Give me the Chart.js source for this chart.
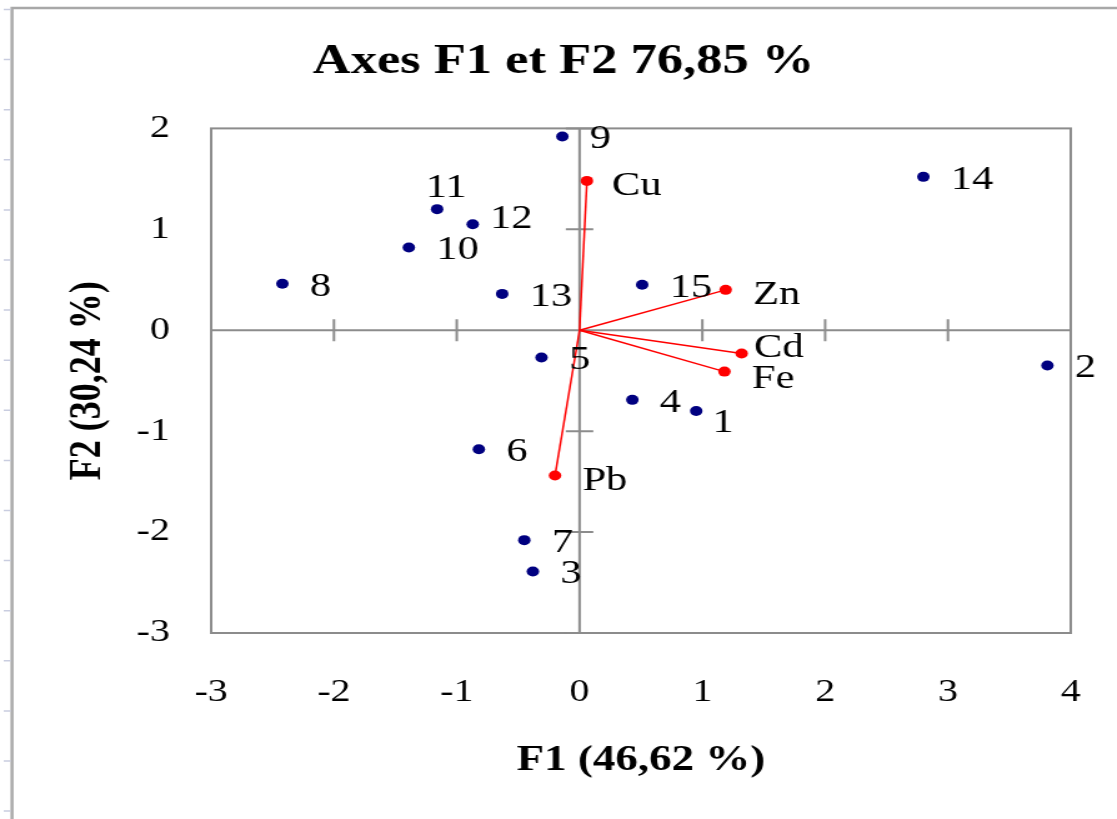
<!DOCTYPE html>
<html lang="fr">
<head>
    <meta charset="UTF-8">
    <title>Axes F1 et F2</title>
    <script src="https://cdn.jsdelivr.net/npm/chart.js"></script>
</head>
<body>
<div class="stretch">
    <canvas id="acpChart" width="894" height="819"></canvas>
</div>

<script>
    // Observations (sites 1..15)
    const obsLabels = ['1', '2', '3', '4', '5', '6', '7', '8', '9', '10', '11', '12', '13', '14', '15'];
    const obsF1 = [0.95, 3.81, -0.38, 0.43, -0.31, -0.82, -0.45, -2.42, -0.14, -1.39, -1.16, -0.87, -0.63, 2.80, 0.51];
    const obsF2 = [-0.80, -0.35, -2.39, -0.69, -0.27, -1.18, -2.08, 0.46, 1.92, 0.82, 1.20, 1.05, 0.36, 1.52, 0.45];

    // Variables (metals)
    const varLabels = ['Cu', 'Zn', 'Cd', 'Fe', 'Pb'];
    const varF1 = [0.06, 1.19, 1.32, 1.18, -0.20];
    const varF2 = [1.48, 0.40, -0.23, -0.41, -1.44];

    // Axis ticks
    const xTicks = [-3, -2, -1, 0, 1, 2, 3, 4];
    const yTicks = [-3, -2, -1, 0, 1, 2];

    // Label placement next to each point (px)
    const labelShift = {
        '11': [-9, -21], '12': [14, -5], '1': [13, 12],
        'Cu': [20, 5], 'Zn': [22, 5], 'Cd': [10, -5], 'Fe': [22, 7], 'Pb': [22, 6]
    };
    const defaultShift = [22, 3];

    const NAVY = '#000080';
    const RED = '#ff0000';
    const AXIS_GREY = '#8c8c8c';

    Chart.defaults.font.family = '"Liberation Serif", "Times New Roman", serif';
    Chart.defaults.color = '#000';

    const obsData = obsF1.map((x, i) => ({ x: x, y: obsF2[i] }));

    // one small dataset per variable: a segment from the origin
    const varDatasets = varLabels.map((name, i) => ({
        label: name,
        data: [{ x: 0, y: 0 }, { x: varF1[i], y: varF2[i] }],
        showLine: true,
        borderColor: RED,
        borderWidth: 1.5,
        backgroundColor: RED,
        pointRadius: [0, 5],
        pointBorderWidth: 0
    }));

    // page frame, plot box and the axes through the origin
    const framePlugin = {
        id: 'framePlugin',
        beforeDraw(chart) {
            const ctx = chart.ctx;
            ctx.save();
            ctx.fillStyle = '#fff';
            ctx.fillRect(0, 0, chart.width, chart.height);
            ctx.strokeStyle = '#a8a8a8';
            ctx.lineWidth = 2.4;
            ctx.beginPath();
            ctx.moveTo(9.6, chart.height);
            ctx.lineTo(9.6, 8);
            ctx.lineTo(chart.width, 8);
            ctx.stroke();
            ctx.strokeStyle = '#c9cde0';
            ctx.lineWidth = 1.5;
            ctx.beginPath();
            for (let y = 9.5; y < chart.height; y += 50.1) {
                ctx.moveTo(3, y);
                ctx.lineTo(8.5, y);
            }
            ctx.stroke();
            ctx.restore();
        },
        beforeDatasetsDraw(chart) {
            const ctx = chart.ctx;
            const area = chart.chartArea;
            const xs = chart.scales.x;
            const ys = chart.scales.y;
            const x0 = xs.getPixelForValue(0);
            const y0 = ys.getPixelForValue(0);
            ctx.save();
            ctx.strokeStyle = AXIS_GREY;
            ctx.lineWidth = 2;
            ctx.strokeRect(area.left, area.top, area.right - area.left, area.bottom - area.top);
            ctx.beginPath();
            ctx.moveTo(area.left, y0);
            ctx.lineTo(area.right, y0);
            ctx.moveTo(x0, area.top);
            ctx.lineTo(x0, area.bottom);
            xs.ticks.forEach(t => {
                const px = xs.getPixelForValue(t.value);
                ctx.moveTo(px, y0 - 11);
                ctx.lineTo(px, y0 + 11);
            });
            ys.ticks.forEach(t => {
                const py = ys.getPixelForValue(t.value);
                ctx.moveTo(x0 - 11, py);
                ctx.lineTo(x0 + 11, py);
            });
            ctx.stroke();
            ctx.restore();
        },
        afterDatasetsDraw(chart) {
            const ctx = chart.ctx;
            ctx.save();
            ctx.font = '34px "Liberation Serif", "Times New Roman", serif';
            ctx.fillStyle = '#000';
            ctx.textAlign = 'left';
            ctx.textBaseline = 'middle';
            chart.data.datasets.forEach((ds, di) => {
                const meta = chart.getDatasetMeta(di);
                if (di === 0) {
                    meta.data.forEach((pt, i) => {
                        const s = labelShift[obsLabels[i]] || defaultShift;
                        ctx.fillText(obsLabels[i], pt.x + s[0], pt.y + s[1]);
                    });
                } else {
                    const pt = meta.data[1];
                    const s = labelShift[ds.label] || defaultShift;
                    ctx.fillText(ds.label, pt.x + s[0], pt.y + s[1]);
                }
            });
            ctx.restore();
        }
    };

    const ctx = document.getElementById('acpChart').getContext('2d');
    new Chart(ctx, {
        type: 'scatter',
        data: {
            datasets: [
                {
                    label: 'Observations',
                    data: obsData,
                    backgroundColor: NAVY,
                    borderColor: NAVY,
                    pointRadius: 5,
                    pointBorderWidth: 0
                },
                ...varDatasets
            ]
        },
        options: {
            responsive: false,
            animation: false,
            layout: { padding: { left: 45, right: 37, top: 0, bottom: 0 } },
            plugins: {
                legend: { display: false },
                tooltip: { enabled: false },
                title: {
                    display: true,
                    text: 'Axes F1 et F2 76,85 %',
                    color: '#000',
                    font: { size: 42, weight: 'bold' },
                    padding: { top: 37, bottom: 41 }
                }
            },
            scales: {
                x: {
                    type: 'linear',
                    min: xTicks[0],
                    max: xTicks[xTicks.length - 1],
                    afterBuildTicks: s => { s.ticks = xTicks.map(v => ({ value: v })); },
                    afterFit: s => { s.height = 186; s.paddingLeft = 0; s.paddingRight = 0; },
                    grid: { display: false },
                    border: { display: false },
                    ticks: { font: { size: 32 }, color: '#000', padding: 32 },
                    title: {
                        display: true,
                        text: 'F1 (46,62 %)',
                        color: '#000',
                        font: { size: 36, weight: 'bold' },
                        padding: { top: 30, bottom: 37 }
                    }
                },
                y: {
                    type: 'linear',
                    min: yTicks[0],
                    max: yTicks[yTicks.length - 1],
                    afterBuildTicks: s => { s.ticks = yTicks.map(v => ({ value: v })); },
                    afterFit: s => { s.width = 124; },
                    grid: { display: false },
                    border: { display: false },
                    ticks: { font: { size: 32 }, color: '#000', padding: 25 },
                    title: {
                        display: true,
                        text: 'F2 (30,24 %)',
                        color: '#000',
                        font: { size: 36, weight: 'bold' },
                        padding: { top: 4, bottom: 20 }
                    }
                }
            }
        },
        plugins: [framePlugin]
    });
</script>

<style>
    body {
        margin: 0;
        background-color: white;
        overflow: hidden;
    }

    /* the reference glyphs are wider than they are tall: stretch horizontally */
    .stretch {
        width: 894px;
        height: 819px;
        transform: scaleX(1.2494);
        transform-origin: 0 0;
    }

    canvas {
        display: block;
    }
</style>
</body>
</html>
